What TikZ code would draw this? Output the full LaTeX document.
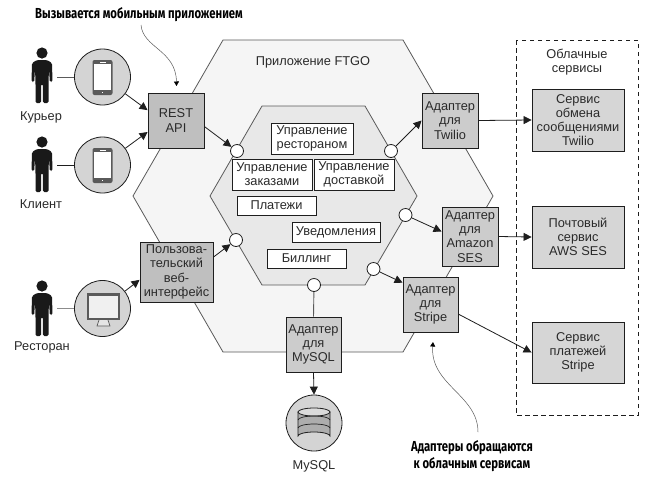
\documentclass[tikz,border=0pt]{standalone}
\usepackage{fontspec}
\setmainfont{Liberation Sans}
\newfontfamily\notefont[FakeStretch=0.78]{Fira Sans}
\usetikzlibrary{arrows.meta}
\definecolor{edgegray}{HTML}{5A5A5A}
\definecolor{darkline}{HTML}{1E1E1E}
\definecolor{txt}{HTML}{2A2A2A}
\tikzset{
 x=1pt,y=-1pt,
 hexouter/.style={draw=edgegray,line width=0.8pt,fill=black!4},
 hexinner/.style={draw=edgegray,line width=0.8pt,fill=black!9},
 port/.style={circle,draw=darkline,line width=0.8pt,fill=white,minimum size=13pt,inner sep=0pt},
 boxbase/.style={rectangle,draw=darkline,line width=0.9pt,inner sep=0pt,align=center,text=txt,font=\fontsize{12.8}{14.2}\selectfont,anchor=center},
 adapter/.style={boxbase,fill=black!20},
 uiadapter/.style={boxbase,fill=black!25},
 cloudsvc/.style={boxbase,fill=black!16},
 module/.style={boxbase,fill=white},
 disc/.style={circle,draw=darkline,line width=0.8pt,fill=black!17,minimum size=56pt,inner sep=0pt},
 lab/.style={text=txt,font=\fontsize{12.8}{14.2}\selectfont,align=center,inner sep=0pt},
 note/.style={font=\notefont\bfseries\fontsize{14.5}{17}\selectfont,align=center,inner sep=0pt,text=black},
 conn/.style={draw=darkline,line width=0.8pt,-{Triangle[length=8pt,width=8pt]}},
 plainconn/.style={draw=edgegray,line width=0.9pt},
 curve/.style={draw=edgegray,line width=0.5pt,-{Triangle[length=4.5pt,width=5pt,color=black]}},
 person/.pic={
  \fill[black!90] (0,0) circle (5.6);
  \fill[black!90,rounded corners=1.5pt] (-5,7) -- (-10,10) -- (-10.5,29) -- (-7.8,29) -- (-7,15) -- (-6.5,30) -- (-6.5,50) -- (-1,50) -- (-0.8,31) -- (0.8,31) -- (1,50) -- (6.5,50) -- (6.5,30) -- (7,15) -- (7.8,29) -- (10.5,29) -- (10,10) -- (5,7) -- cycle;
 },
 phone/.pic={
  \fill[edgegray,rounded corners=2pt] (-10,-17.5) rectangle (10,17.5);
  \fill[white] (-8.3,-13.5) rectangle (8.3,12.5);
  \fill[white] (-3,-15.8) rectangle (3,-15);
  \fill[white] (-0.8,14.2) rectangle (0.8,15.6);
 },
}
\begin{document}
\begin{tikzpicture}
\useasboundingbox (0,0) rectangle (655,483);
\fill[white] (0,0) rectangle (655,483);
% hexagons
\draw[hexouter] (223,40) -- (403,40) -- (493,196) -- (403,352) -- (223,352) -- (133,196) -- cycle;
\draw[hexinner] (262,106) -- (365,106) -- (417,196) -- (365,285) -- (262,285) -- (210,196) -- cycle;
\node[lab] (apptitle) at (313,62) {Приложение FTGO};
% cloud frame
\draw[darkline,line width=0.8pt,dash pattern=on 4.5pt off 3.5pt] (516,40) rectangle (638,415);
\node[lab] (cloudtitle) at (577,62) {Облачные\\сервисы};
% modules
\node[module,minimum width=82pt,minimum height=31pt] (m1) at (312,138.5) {Управление\\рестораном};
\node[module,minimum width=80pt,minimum height=31pt] (m2) at (272,174.5) {Управление\\заказами};
\node[module,minimum width=80pt,minimum height=31pt] (m3) at (354,174.5) {Управление\\доставкой};
\node[module,minimum width=79pt,minimum height=19pt] (m4) at (276.5,205.5) {Платежи};
\node[module,minimum width=88pt,minimum height=20pt] (m5) at (336,232) {Уведомления};
\node[module,minimum width=79pt,minimum height=19pt] (m6) at (306.5,258.5) {Биллинг};
% ports
\node[port] (c1) at (237,151) {};
\node[port] (c2) at (391,151) {};
\node[port] (c3) at (405.5,215) {};
\node[port] (c4) at (373.5,269) {};
\node[port] (c5) at (314,285) {};
\node[port] (c6) at (236,240) {};
% adapters
\node[uiadapter,minimum width=56pt,minimum height=55pt] (rest) at (176,120.5) {REST\\API};
\node[uiadapter,minimum width=73pt,minimum height=60pt] (web) at (176.5,272) {Пользова-\\тельский\\веб-\\интерфейс};
\node[adapter,minimum width=55pt,minimum height=55pt] (mysqla) at (313.5,344.5) {Адаптер\\для\\MySQL};
\node[adapter,minimum width=56pt,minimum height=55pt] (twa) at (450,120.5) {Адаптер\\для\\Twilio};
\node[adapter,minimum width=56pt,minimum height=59pt] (ama) at (470,236.5) {Адаптер\\для\\Amazon\\SES};
\node[adapter,minimum width=55pt,minimum height=55pt] (stra) at (430.5,304.5) {Адаптер\\для\\Stripe};
% services
\node[cloudsvc,minimum width=92pt,minimum height=62pt] (s1) at (578,120) {Сервис\\обмена\\сообщениями\\Twilio};
\node[cloudsvc,minimum width=92pt,minimum height=62pt] (s2) at (578,237) {Почтовый\\сервис\\AWS SES};
\node[cloudsvc,minimum width=92pt,minimum height=61pt] (s3) at (578,352.5) {Сервис\\платежей\\Stripe};
% discs
\node[disc] (p1) at (102.5,77) {};
\node[disc] (p2) at (102.5,165) {};
\node[disc] (p3) at (102.5,308.5) {};
\node[disc] (db) at (314,423) {};
\pic at (102.5,77.5) {phone};
\pic at (102.5,165.5) {phone};
% monitor
\fill[edgegray] (87,293) rectangle (120,320);
\fill[black!6] (89,295.5) rectangle (118,318);
\draw[edgegray,line width=0.7pt,fill=black!10] (99,320) -- (97,326) -- (110,326) -- (108,320);
% database
\draw[darkline,line width=0.8pt,fill=black!32] (298,412) -- (298,436) arc[start angle=180,end angle=360,x radius=16,y radius=4] -- (330,412) -- cycle;
\draw[darkline,line width=0.8pt,fill=black!14] (314,412) ellipse[x radius=16,y radius=4];
\draw[darkline,line width=0.7pt] (298,420) arc[start angle=180,end angle=360,x radius=16,y radius=4];
\draw[darkline,line width=0.7pt] (298,428) arc[start angle=180,end angle=360,x radius=16,y radius=4];
\node[lab] (dbl) at (314,466) {MySQL};
% persons
\pic at (42,53) {person};
\pic at (42,142) {person};
\pic at (42,286) {person};
\coordinate (h1) at (57,77);
\coordinate (h2) at (57,165);
\coordinate (h3) at (57,308.5);
\draw[plainconn] (h1) -- (p1);
\draw[plainconn,draw=darkline] (h2) -- (p2);
\draw[plainconn,draw=black!45] (h3) -- (p3);
\node[lab] (l1) at (41,117) {Курьер};
\node[lab] (l2) at (41,204.5) {Клиент};
\node[lab] (l3) at (42,347.5) {Ресторан};
% connectors
\draw[conn] (p1) -- (rest.160);
\draw[conn] (p2) -- (rest.202);
\draw[conn] (p3) -- (web.192);
\draw[conn] (rest.-12) -- (c1);
\draw[conn] (web.22) -- (c6);
\draw[conn] (c2) -- (twa.west);
\draw[conn] (c3) -- (ama.170);
\draw[conn] (c4) -- (stra.142);
\draw[conn] (twa.east) -- (s1.west);
\draw[conn] (ama.east) -- (s2.west);
\draw[conn] (stra.-19) -- (s3.west);
\draw[conn] (mysqla.south) -- (db.north);
\draw[plainconn] (c5) -- (mysqla.north);
% notes
\node[note] (n1) at (139,14.5) {Вызывается мобильным приложением};
\node[note] (n2) at (472,456) {Адаптеры обращаются\\к облачным сервисам};
\coordinate (n1e) at (176.5,86);
\coordinate (n2e) at (433,342);
\draw[curve] (141,25) .. controls (143,48) and (176,50) .. (n1e);
\draw[curve] (478,432) .. controls (478,395) and (430,385) .. (n2e);
\end{tikzpicture}
\end{document}
